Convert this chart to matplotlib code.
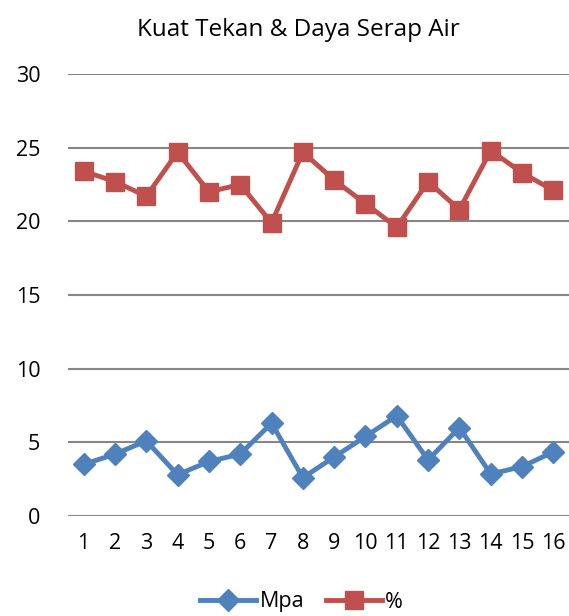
import matplotlib.pyplot as plt
from matplotlib.lines import Line2D

plt.rcParams['font.family'] = ['Open Sans', 'DejaVu Sans']

# data
samples = list(range(1, 17))
mpa = [3.5, 4.2, 5.1, 2.8, 3.7, 4.2, 6.3, 2.6, 4.0, 5.4, 6.8, 3.8, 6.0, 2.85, 3.35, 4.35]
persen = [23.4, 22.7, 21.7, 24.7, 22.0, 22.5, 19.9, 24.7, 22.8, 21.2, 19.6, 22.7, 20.8, 24.8, 23.3, 22.1]
yticks = [0, 5, 10, 15, 20, 25, 30]

blue = '#4F81BD'
red = '#C0504D'

fig = plt.figure(figsize=(5.69, 6.16), dpi=100)
ax = fig.add_axes([68 / 569, 1 - 516 / 616, 501 / 569, 442 / 616])

ax.plot(samples, mpa, color=blue, lw=3.5, marker='D', ms=11, mec=blue, mfc=blue, label='Mpa', zorder=3)
ax.plot(samples, persen, color=red, lw=3.5, marker='s', ms=13, mec=red, mfc=red, label='%', zorder=3)

ax.set_xlim(0.5, 16.5)
ax.set_ylim(0, 30)
ax.set_yticks(yticks)
ax.set_xticks(samples)
ax.yaxis.grid(True, color='#868686', lw=1.5)
ax.set_axisbelow(True)
for s in ax.spines.values():
    s.set_visible(False)
ax.tick_params(length=0, labelsize=15.5)
ax.tick_params(axis='y', pad=20)
ax.tick_params(axis='x', pad=12)

fig.text(298 / 569, 1 - 30 / 616, 'Kuat Tekan & Daya Serap Air', ha='center', va='center', fontsize=17.5)

handles = [Line2D([], [], color=blue, lw=3.5, marker='D', ms=11),
           Line2D([], [], color=red, lw=3.5, marker='s', ms=13)]
fig.legend(handles, ['Mpa', '%'], loc='center', bbox_to_anchor=(0.53, 1 - 602 / 616),
           ncol=2, frameon=False, fontsize=15.5, handlelength=2.6, columnspacing=1.0,
           handletextpad=0.15)

fig.savefig('out.png', dpi=100)
